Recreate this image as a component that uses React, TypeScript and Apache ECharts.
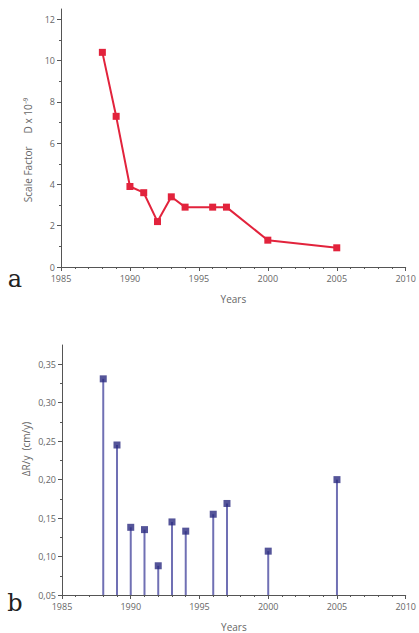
import React, { useEffect, useRef } from "react";
import * as echarts from "echarts";

const yearsA = [1988, 1989, 1990, 1991, 1992, 1993, 1994, 1996, 1997, 2000, 2005];
const scaleFactor = [10.4, 7.3, 3.9, 3.6, 2.2, 3.4, 2.9, 2.9, 2.9, 1.3, 0.93];

const yearsB = [1988, 1989, 1990, 1991, 1992, 1993, 1994, 1996, 1997, 2000, 2005];
const deltaR = [0.331, 0.245, 0.138, 0.135, 0.088, 0.145, 0.133, 0.155, 0.169, 0.107, 0.2];

const yTicksA = [0, 2, 4, 6, 8, 10, 12];
const yMinorA = [1, 3, 5, 7, 9, 11];
const yTicksB = [0.05, 0.1, 0.15, 0.2, 0.25, 0.3, 0.35];
const yMinorB = [0.075, 0.125, 0.175, 0.225, 0.275, 0.325];

const FONT = "Open Sans";
const AXIS = "#555";
const LABEL = "#666";

export default function App() {
  const ref = useRef<HTMLDivElement>(null);
  useEffect(() => {
    const chart = echarts.init(ref.current!, null, { renderer: "svg" });
    const xAxisBase = (gridIndex: number) => ({
      type: "value",
      gridIndex,
      min: 1985,
      max: 2010,
      interval: 5,
      name: "Years",
      nameLocation: "middle",
      nameGap: 27,
      nameTextStyle: { fontFamily: FONT, fontSize: 10, color: LABEL },
      axisLine: { show: true, onZero: false, lineStyle: { color: AXIS, width: 1 } },
      axisTick: { show: true, length: 4, lineStyle: { color: AXIS } },
      minorTick: { show: true, splitNumber: 5, length: 2, lineStyle: { color: AXIS } },
      axisLabel: { fontFamily: FONT, fontSize: 9, color: LABEL, margin: 7, formatter: (v: number) => String(v) },
      splitLine: { show: false },
      minorSplitLine: { show: false },
    });
    const yMain = (gridIndex: number, min: number, max: number, interval: number, ticks: number[], fmt: (v: number) => string) => ({
      type: "value",
      gridIndex,
      min,
      max,
      interval,
      axisLine: { show: true, onZero: false, lineStyle: { color: AXIS, width: 1 } },
      axisTick: { show: true, length: 4, customValues: ticks, lineStyle: { color: AXIS } },
      axisLabel: { fontFamily: FONT, fontSize: 9, color: LABEL, margin: 6, customValues: ticks, formatter: fmt },
      splitLine: { show: false },
    });
    const yMinor = (gridIndex: number, min: number, max: number, ticks: number[]) => ({
      type: "value",
      gridIndex,
      min,
      max,
      position: "left",
      offset: 0,
      axisLine: { show: false },
      axisTick: { show: true, length: 2, customValues: ticks, lineStyle: { color: AXIS } },
      axisLabel: { show: false },
      splitLine: { show: false },
    });

    chart.setOption({
      animation: false,
      backgroundColor: "#fff",
      grid: [
        { left: 61, top: 9, width: 350, height: 258 },
        { left: 62, top: 345, width: 349, height: 251 },
      ],
      xAxis: [xAxisBase(0), xAxisBase(1)],
      yAxis: [
        yMain(0, 0, 12.5, 2, yTicksA, (v: number) => String(v)),
        yMinor(0, 0, 12.5, yMinorA),
        yMain(1, 0.05, 0.375, 0.05, yTicksB, (v: number) => v.toFixed(2).replace(".", ",")),
        yMinor(1, 0.05, 0.375, yMinorB),
      ],
      series: [
        {
          type: "line",
          xAxisIndex: 0,
          yAxisIndex: 0,
          data: yearsA.map((y, i) => [y, scaleFactor[i]]),
          symbol: "rect",
          symbolSize: 7,
          lineStyle: { color: "#e2233c", width: 2 },
          itemStyle: { color: "#e2233c" },
        },
        {
          type: "custom",
          xAxisIndex: 1,
          yAxisIndex: 2,
          data: yearsB.map((y, i) => [y, deltaR[i]]),
          renderItem: (params: any, api: any) => {
            const p0 = api.coord([api.value(0), 0.05]);
            const p1 = api.coord([api.value(0), api.value(1)]);
            return {
              type: "line",
              shape: { x1: p0[0], y1: p0[1], x2: p1[0], y2: p1[1] },
              style: { stroke: "#7070b4", lineWidth: 2 },
            };
          },
        },
        {
          type: "scatter",
          xAxisIndex: 1,
          yAxisIndex: 2,
          data: yearsB.map((y, i) => [y, deltaR[i]]),
          symbol: "rect",
          symbolSize: 7,
          itemStyle: { color: "#2a2a80" },
        },
      ],
      graphic: [
        {
          type: "text",
          x: 28,
          y: 150,
          rotation: Math.PI / 2,
          style: {
            text: "Scale Factor     D x 10⁻⁹",
            fontFamily: FONT,
            fontSize: 10,
            fill: LABEL,
            align: "center",
            verticalAlign: "middle",
          },
        },
        {
          type: "text",
          x: 26,
          y: 449,
          rotation: Math.PI / 2,
          style: {
            text: "ΔR/y  (cm/y)",
            fontFamily: FONT,
            fontSize: 10,
            fill: LABEL,
            align: "center",
            verticalAlign: "middle",
          },
        },
        {
          type: "text",
          x: 15,
          y: 279,
          style: {
            text: "a",
            fontFamily: "DejaVu Serif",
            fontSize: 24,
            fill: "#222",
            align: "center",
            verticalAlign: "middle",
          },
        },
        {
          type: "text",
          x: 15,
          y: 603,
          style: {
            text: "b",
            fontFamily: "DejaVu Serif",
            fontSize: 24,
            fill: "#222",
            align: "center",
            verticalAlign: "middle",
          },
        },
      ],
    });
    return () => chart.dispose();
  }, []);
  return (
    <div
      ref={ref}
      style={{ position: "fixed", left: 0, top: 0, width: 419, height: 633, background: "#fff" }}
    />
  );
}
